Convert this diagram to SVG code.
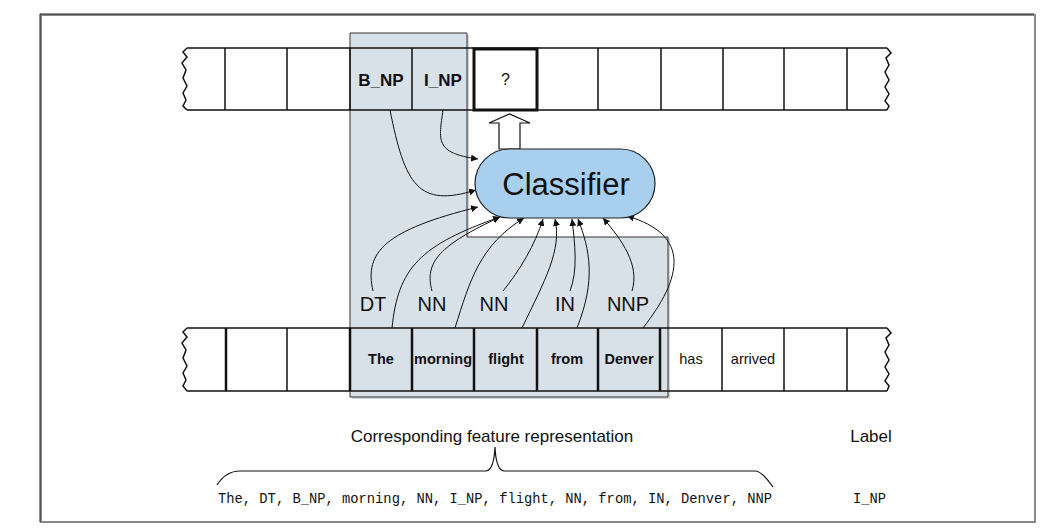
<svg xmlns="http://www.w3.org/2000/svg" width="1047" height="531" viewBox="0 0 1047 531">
<style>
.tape{fill:none;stroke:#111;stroke-width:1.5}
.cell{stroke:#111;stroke-width:1.5}
.cellb{stroke:#111;stroke-width:2.5}
.conn{fill:none;stroke:#111;stroke-width:1}
.pos{font-family:"Liberation Sans",Arial,sans-serif;font-size:20px;fill:#111;text-anchor:middle}
.word{font-family:"Liberation Sans",Arial,sans-serif;font-size:14.5px;font-weight:bold;fill:#111;text-anchor:middle}
.wordn{font-family:"Liberation Sans",Arial,sans-serif;font-size:14.5px;fill:#111;text-anchor:middle}
.tag{font-family:"Liberation Sans",Arial,sans-serif;font-size:17px;font-weight:bold;fill:#111;text-anchor:middle}
.cap{font-family:"Liberation Sans",Arial,sans-serif;font-size:17px;fill:#111;text-anchor:middle}
.mono{font-family:"Liberation Mono","Courier New",monospace;font-size:13.8px;fill:#111}
</style>
<defs>
<marker id="ah" viewBox="0 0 10 10" refX="10" refY="5" markerWidth="7" markerHeight="7" markerUnits="userSpaceOnUse" orient="auto">
<path d="M0,0 L10,5 L0,10 z" fill="#111"/>
</marker>
</defs>
<rect x="0" y="0" width="1047" height="531" fill="#fff"/>
<g id="frame">
<rect x="41" y="15" width="994" height="507" fill="none" stroke="#888" stroke-width="2"/>
<path d="M40,522 L40,14 L1034,14" fill="none" stroke="#222" stroke-width="1"/>
</g>
<g id="window">
<polygon points="352,35 469,35 469,239 670,239 670,399 352,399" fill="#b8b8b8" opacity="0.6"/>
<polygon points="350,33 467,33 467,237 668,237 668,397 350,397" fill="#d8e0e8" stroke="#333" stroke-width="1"/>
</g>
<g id="top-tape">
<path class="tape" d="M187,48 L887,48 M187,110 L887,110"/>
<path class="tape" d="M187,48 L183,52 L187,57 L182,63 L186,70 L183,78 L187,86 L183,93 L186,100 L183,106 L187,110"/>
<path class="tape" d="M887,48 L891,53 L886,58 L889,65 L885,72 L889,80 L885,87 L889,94 L885,101 L889,106 L887,110"/>
<path class="cell" d="M225,48V110 M287,48V110 M350,48V110 M412,48V110 M598,48V110 M661,48V110 M723,48V110 M784,48V110 M847,48V110"/>
<text class="tag" x="381" y="86">B_NP</text>
<text class="tag" x="443" y="86">I_NP</text>
</g>
<g id="target">
<rect x="474" y="49" width="63" height="61" fill="#fff" stroke="#111" stroke-width="3"/>
<text class="wordn" x="505.5" y="85" style="font-size:16px">?</text>
</g>
<g id="bottom-tape">
<path class="tape" d="M187,328 L887,328 M187,391 L887,391"/>
<path class="tape" d="M187,328 L183,332 L187,337 L182,343 L186,350 L183,358 L187,366 L183,373 L186,380 L183,386 L187,391"/>
<path class="tape" d="M887,328 L891,333 L886,338 L889,345 L885,352 L889,360 L885,367 L889,374 L885,381 L889,386 L887,391"/>
<path class="cellb" d="M226,328V391 M350,328V391 M412,328V391 M474,328V391 M537,328V391 M598,328V391 M660,328V391"/>
<path class="cell" d="M287,328V391 M722,328V391 M784,328V391 M847,328V391"/>
<text class="word" x="381" y="364">The</text>
<text class="word" x="443" y="364">morning</text>
<text class="word" x="506" y="364">flight</text>
<text class="word" x="567" y="364">from</text>
<text class="word" x="629" y="364">Denver</text>
<text class="wordn" x="691" y="364">has</text>
<text class="wordn" x="753" y="364">arrived</text>
</g>
<g id="pos-tags">
<text class="pos" x="373" y="311">DT</text>
<text class="pos" x="432" y="311">NN</text>
<text class="pos" x="494" y="311">NN</text>
<text class="pos" x="565" y="311">IN</text>
<text class="pos" x="628" y="311">NNP</text>
</g>
<g id="connectors">
<path class="conn" marker-end="url(#ah)" d="M390,110 C405,185 418,208 476,190"/>
<path class="conn" marker-end="url(#ah)" d="M443,110 C439,140 434,153 478,159"/>
<path class="conn" marker-end="url(#ah)" d="M373,291 C364,252 385,230 478,207"/>
<path class="conn" marker-end="url(#ah)" d="M392,328 C398,268 420,245 500,217"/>
<path class="conn" marker-end="url(#ah)" d="M432,291 C424,262 440,245 500,217"/>
<path class="conn" marker-end="url(#ah)" d="M455,328 C470,280 480,245 524,218"/>
<path class="conn" marker-end="url(#ah)" d="M503,291 C520,270 535,245 543,219"/>
<path class="conn" marker-end="url(#ah)" d="M522,328 C545,280 562,250 555,219"/>
<path class="conn" marker-end="url(#ah)" d="M570,291 C578,270 575,245 572,219"/>
<path class="conn" marker-end="url(#ah)" d="M577,328 C596,280 590,250 578,219"/>
<path class="conn" marker-end="url(#ah)" d="M632,291 C640,265 622,240 603,218"/>
<path class="conn" marker-end="url(#ah)" d="M643,328 C682,278 692,235 627,216"/>
<polygon points="499,149 499,123 489,123 509.5,114 530,123 520,123 520,149" fill="#fff" stroke="#111" stroke-width="1.2"/>
</g>
<g id="classifier">
<rect x="475" y="149" width="180" height="69" rx="34.5" fill="#a9cfee" stroke="#222" stroke-width="1.2"/>
<text x="566" y="195" style="font-family:'Liberation Sans',Arial,sans-serif;font-size:31px;fill:#111;text-anchor:middle">Classifier</text>
</g>
<g id="features">
<text class="cap" x="492" y="442">Corresponding feature representation</text>
<text class="cap" x="871" y="442">Label</text>
<path d="M217,485 Q226,471 240,471 L486,471 Q494,470 495,447 Q496,470 504,471 L755,471 Q762,471 773,487" fill="none" stroke="#111" stroke-width="1.2"/>
<text class="mono" x="218" y="503" textLength="554" lengthAdjust="spacingAndGlyphs">The, DT, B_NP, morning, NN, I_NP, flight, NN, from, IN, Denver, NNP</text>
<text class="mono" x="853" y="503">I_NP</text>
</g>
</svg>
